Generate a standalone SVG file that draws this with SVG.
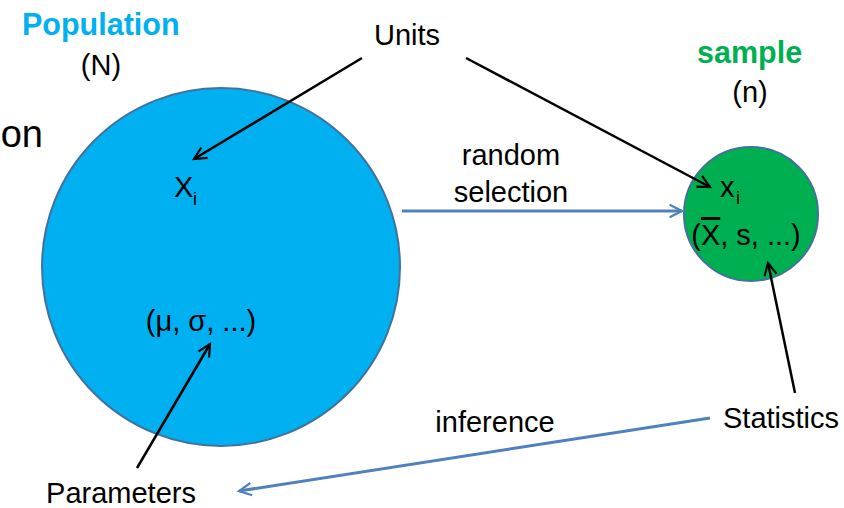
<svg xmlns="http://www.w3.org/2000/svg" width="844" height="508" viewBox="0 0 844 508">
<style>
text{font-family:"Liberation Sans",Arial,sans-serif;fill:#000;}
.t{font-size:29px;}
.s{font-size:18px;}
.bk{stroke:#000;stroke-width:2.5;fill:none;}
.bl{stroke:#4f81bd;stroke-width:3;fill:none;}
</style>
<defs>
<marker id="ab" viewBox="0 0 12 12" refX="10" refY="6" markerWidth="6.5" markerHeight="6.5" orient="auto" markerUnits="strokeWidth">
<path d="M1,1.5 L10,6 L1,10.5" fill="none" stroke="#000" stroke-width="1.6"/>
</marker>
<marker id="aw" viewBox="0 0 12 12" refX="10" refY="6" markerWidth="5.5" markerHeight="5.5" orient="auto" markerUnits="strokeWidth">
<path d="M1,1.5 L10,6 L1,10.5" fill="none" stroke="#4f81bd" stroke-width="1.6"/>
</marker>
</defs>
<rect width="844" height="508" fill="#fff"/>
<text x="43" y="147" text-anchor="end" style="font-size:38px">on</text>
<g id="population">
<circle cx="221" cy="267" r="179" fill="#00b0f0" stroke="#41719c" stroke-width="2"/>
<text x="22" y="35" style="font-size:30.5px;font-weight:bold;fill:#00b0f0">Population</text>
<text class="t" x="101" y="75" text-anchor="middle">(N)</text>
<text class="t" x="174" y="197">X</text><text class="s" x="193" y="205">i</text>
<text class="t" x="201" y="331" text-anchor="middle">(μ, σ, ...)</text>
</g>
<g id="sample">
<circle cx="751" cy="214" r="67" fill="#00b050" stroke="#41719c" stroke-width="2"/>
<text x="697" y="63" style="font-size:30.5px;font-weight:bold;fill:#00b050">sample</text>
<text class="t" x="750" y="102" text-anchor="middle">(n)</text>
<text class="t" x="720" y="197">x</text><text class="s" x="736" y="204">i</text>
<text class="t" x="746" y="245" text-anchor="middle">(<tspan text-decoration="overline">X</tspan>, s, ...)</text>
</g>
<g id="units"><text class="t" x="407" y="45" text-anchor="middle">Units</text></g>
<g id="parameters"><text class="t" x="121" y="503" text-anchor="middle">Parameters</text></g>
<g id="statistics"><text class="t" x="781" y="428" text-anchor="middle">Statistics</text></g>
<g id="labels">
<text class="t" x="511" y="165" text-anchor="middle">random</text>
<text class="t" x="511" y="202" text-anchor="middle">selection</text>
<text class="t" x="495" y="432" text-anchor="middle">inference</text>
</g>
<g id="connectors">
<line class="bk" x1="362" y1="58" x2="194" y2="159" marker-end="url(#ab)"/>
<line class="bk" x1="466" y1="58" x2="710" y2="187" marker-end="url(#ab)"/>
<line class="bk" x1="137" y1="468" x2="210" y2="344" marker-end="url(#ab)"/>
<line class="bk" x1="795" y1="393" x2="768" y2="263" marker-end="url(#ab)"/>
<line class="bl" x1="402" y1="211" x2="682" y2="211" marker-end="url(#aw)"/>
<line class="bl" x1="710" y1="418" x2="239" y2="491" marker-end="url(#aw)"/>
</g>
</svg>
